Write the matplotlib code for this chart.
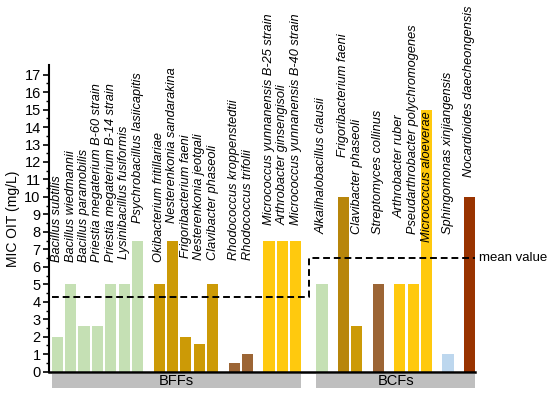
import matplotlib
matplotlib.use("Agg")
import matplotlib.pyplot as plt
import matplotlib.transforms as mtransforms
import numpy as np

# ======================================================
# DATA
# ======================================================
bff_names = [
    "Bacillus subtilis", "Bacillus wiedmannii", "Bacillus paramobilis",
    "Priestia megaterium B-60 strain", "Priestia megaterium B-14 strain",
    "Lysinibacillus fusiformis", "Psychrobacillus lasiicapitis",
    "Okibacterium fritillariae", "Nesterenkonia sandarakina",
    "Frigoribacterium faeni", "Nesterenkonia jeotgali", "Clavibacter phaseoli",
    "Rhodococcus kroppenstedtii", "Rhodococcus trifolii",
    "Micrococcus yunnanensis B-25 strain", "Arthrobacter ginsengisoli",
    "Micrococcus yunnanensis B-40 strain",
]
bff_mic = [2.0, 5.0, 2.6, 2.6, 5.0, 5.0, 7.5,
           5.0, 7.5, 2.0, 1.6, 5.0,
           0.5, 1.0,
           7.5, 7.5, 7.5]

bcf_names = [
    "Alkalihalobacillus clausii", "Frigoribacterium faeni",
    "Clavibacter phaseoli", "Streptomyces collinus", "Arthrobacter ruber",
    "Pseudarthrobacter polychromogenes", "Micrococcus aloeverae",
    "Sphingomonas xinjiangensis", "Nocardioides daecheongensis",
]
bcf_mic = [5.0, 10.0, 2.6, 5.0, 5.0, 5.0, 15.0, 1.0, 10.0]

group_names = ["BFFs", "BCFs"]
mean_vals = [4.3, 6.5]

# ======================================================
# LAYOUT / STYLE
# ======================================================
bff_cluster = [0] * 7 + [1] * 5 + [2] * 2 + [3] * 3
bcf_cluster = [0, 1, 1, 2, 3, 3, 3, 4, 5]
CLUSTER_GAP = 0.6
GROUP_GAP = 1.96
BAR_W = 0.83

GREEN = "#c5e0b4"
GOLD = "#cc9a06"
DKGOLD = "#b8860b"
BROWN = "#9c6535"
YELLOW = "#ffc90e"
BLUE = "#bdd7ee"
RUST = "#993300"
bff_colors = [GREEN] * 7 + [GOLD] * 5 + [BROWN] * 2 + [YELLOW] * 3
bcf_colors = [GREEN, DKGOLD, GOLD, BROWN, YELLOW, YELLOW, YELLOW, BLUE, RUST]

# where the bottom of each rotated name sits (data units)
bff_label_y = [6.3, 6.3, 6.3, 6.25, 6.25, 6.45, 8.5,
               6.3, 8.5, 6.5, 6.4, 6.4,
               6.4, 6.4,
               8.4, 8.4, 8.4]
bcf_label_y = [7.9, 12.3, 7.9, 7.9, 8.8, 7.9, None, 7.9, 11.15]

LABEL_FS = 9.2

plt.rcParams.update({
    "font.family": ["Liberation Sans", "DejaVu Sans"],
    "font.size": 10,
})

bff_x = np.arange(len(bff_mic)) + np.array(bff_cluster) * CLUSTER_GAP
bcf_start = bff_x[-1] + GROUP_GAP
bcf_x = bcf_start + np.arange(len(bcf_mic)) + np.array(bcf_cluster) * CLUSTER_GAP

fig = plt.figure(figsize=(5.5, 3.94), dpi=100)
ax = fig.add_axes([0.0891, 0.0566, 0.7745, 0.7784])

ax.bar(bff_x, bff_mic, width=BAR_W, color=bff_colors, zorder=2)
ax.bar(bcf_x, bcf_mic, width=BAR_W, color=bcf_colors, zorder=2)

# species names
for x, name, yb in zip(bff_x, bff_names, bff_label_y):
    ax.text(x, yb, name, rotation=90, ha="center", va="bottom",
            fontsize=LABEL_FS, style="italic")
for x, name, yb, v in zip(bcf_x, bcf_names, bcf_label_y, bcf_mic):
    if yb is None:
        ax.text(x, v - 0.1, name, rotation=90, ha="center", va="top",
                fontsize=LABEL_FS, style="italic")
    else:
        ax.text(x, yb, name, rotation=90, ha="center", va="bottom",
                fontsize=LABEL_FS, style="italic")

# mean value step line
x_left = bff_x[0] - BAR_W / 2
x_mid = (bff_x[-1] + bcf_x[0]) / 2
x_right = bcf_x[-1] + BAR_W / 2
ax.plot([x_left, x_mid, x_mid, x_right],
        [mean_vals[0], mean_vals[0], mean_vals[1], mean_vals[1]],
        color="black", linestyle=(0, (3.5, 2)), linewidth=1.4, zorder=3,
        clip_on=False)
ax.text(x_right + 0.3, mean_vals[1], "mean value", ha="left", va="center",
        fontsize=9.5)

# group bands under the axis
trans = mtransforms.blended_transform_factory(ax.transData, ax.transAxes)
for gx, gname in zip([bff_x, bcf_x], group_names):
    x0 = gx[0] - BAR_W / 2
    x1 = gx[-1] + BAR_W / 2
    ax.add_patch(plt.Rectangle((x0, -0.053), x1 - x0, 0.047,
                               transform=trans, clip_on=False,
                               facecolor="#bfbfbf", edgecolor="none"))
    ax.text((x0 + x1) / 2, -0.03, gname, transform=trans,
            ha="center", va="center", fontsize=10.5)

ax.set_xlim(bff_x[0] - BAR_W / 2 - 0.2, x_right)
ax.set_ylim(0, 17.55)
ax.set_yticks(range(0, 18))
ax.set_yticks(np.arange(0.5, 17.5, 1.0), minor=True)
ax.set_xticks([])
ax.tick_params(axis="y", which="major", length=4, width=1.2, pad=2,
               labelsize=10.5)
ax.tick_params(axis="y", which="minor", length=2.5, width=1.0)
ax.set_ylabel("MIC OIT (mg/L)", fontsize=10, labelpad=3)

for side in ["top", "right"]:
    ax.spines[side].set_visible(False)
ax.spines["left"].set_linewidth(1.5)
ax.spines["bottom"].set_linewidth(1.8)
ax.spines["bottom"].set_zorder(4)

fig.savefig("out.png", dpi=100)
